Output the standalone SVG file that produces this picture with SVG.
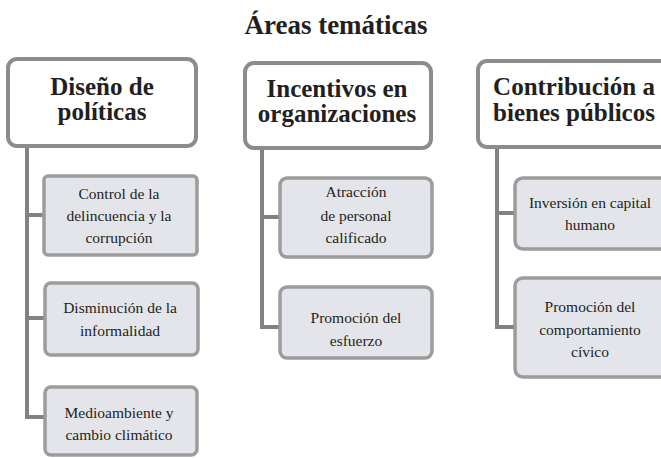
<svg xmlns="http://www.w3.org/2000/svg" width="661" height="458" viewBox="0 0 661 458">
<style>
.hdr{fill:#fff;stroke:#8c8c8c;stroke-width:4}
.sub{fill:#e3e5ea;stroke:#9c9c9c;stroke-width:3.5}
.ht{font-family:"Liberation Serif",serif;font-weight:bold;font-size:25px;fill:#231f20;text-anchor:middle}
.st{font-family:"Liberation Serif",serif;font-size:15.5px;fill:#231f20;text-anchor:middle}
.title{font-family:"Liberation Serif",serif;font-weight:bold;font-size:27px;fill:#231f20;text-anchor:middle}
.con{fill:none;stroke:#828282;stroke-width:4}
</style>
<rect width="661" height="458" fill="#fff"/>
<text class="title" x="336" y="34">Áreas temáticas</text>
<g id="connectors">
<path class="con" d="M27 146 V417 H45 M27 215 H45 M27 318 H45"/>
<path class="con" d="M262 148 V327 H280 M262 217 H280"/>
<path class="con" d="M497 147 V327 H515 M497 213 H515"/>
</g>
<g id="h1"><rect class="hdr" x="8" y="59" width="188" height="87" rx="9"/>
<text class="ht" x="102" y="95">Diseño de</text><text class="ht" x="102" y="120">políticas</text></g>
<g id="h2"><rect class="hdr" x="245" y="63" width="186" height="85" rx="9"/>
<text class="ht" x="337" y="97">Incentivos en</text><text class="ht" x="337" y="122">organizaciones</text></g>
<g id="h3"><rect class="hdr" x="478" y="61" width="200" height="86" rx="9"/>
<text class="ht" x="574" y="95">Contribución a</text><text class="ht" x="574" y="121">bienes públicos</text></g>
<g id="s1"><rect class="sub" x="44" y="176" width="153" height="79" rx="4"/>
<text class="st" x="119" y="199">Control de la</text><text class="st" x="119" y="221">delincuencia y la</text><text class="st" x="119" y="243">corrupción</text></g>
<g id="s2"><rect class="sub" x="45" y="283" width="153" height="72" rx="6"/>
<text class="st" x="120" y="313">Disminución de la</text><text class="st" x="120" y="336">informalidad</text></g>
<g id="s3"><rect class="sub" x="45" y="387" width="152" height="68" rx="6"/>
<text class="st" x="119" y="418">Medioambiente y</text><text class="st" x="119" y="440">cambio climático</text></g>
<g id="s4"><rect class="sub" x="280" y="178" width="152" height="79" rx="7"/>
<text class="st" x="356" y="197">Atracción</text><text class="st" x="356" y="221">de personal</text><text class="st" x="356" y="243">calificado</text></g>
<g id="s5"><rect class="sub" x="280" y="287" width="152" height="71" rx="7"/>
<text class="st" x="356" y="323">Promoción del</text><text class="st" x="356" y="346">esfuerzo</text></g>
<g id="s6"><rect class="sub" x="515" y="178" width="160" height="71" rx="8"/>
<text class="st" x="590" y="208">Inversión en capital</text><text class="st" x="590" y="230">humano</text></g>
<g id="s7"><rect class="sub" x="515" y="278" width="160" height="99" rx="8"/>
<text class="st" x="590" y="312">Promoción del</text><text class="st" x="590" y="335">comportamiento</text><text class="st" x="590" y="357">cívico</text></g>
</svg>
